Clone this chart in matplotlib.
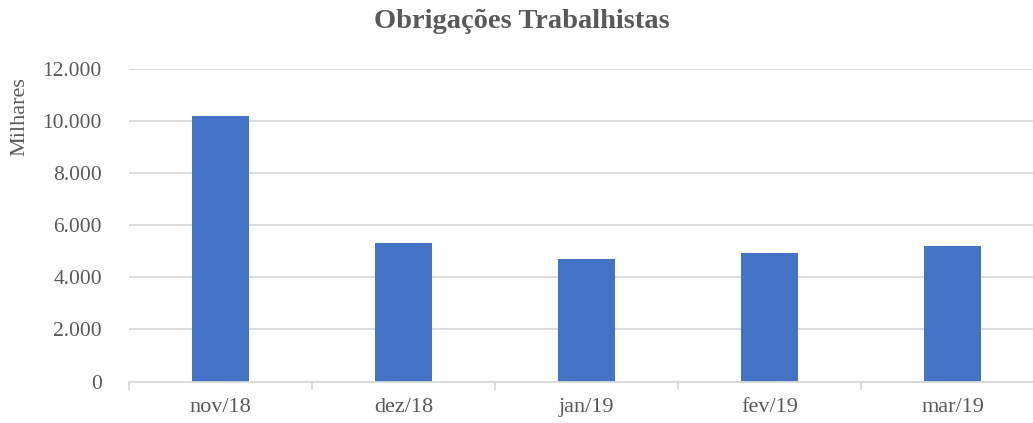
import matplotlib
matplotlib.use("Agg")
import matplotlib.pyplot as plt
from matplotlib.ticker import FuncFormatter, FixedLocator
import numpy as np

# Monthly labour obligations (thousands)
months = ["nov/18", "dez/18", "jan/19", "fev/19", "mar/19"]
values = [10200, 5330, 4700, 4930, 5200]
y_ticks = [0, 2000, 4000, 6000, 8000, 10000, 12000]

plt.rcParams["font.family"] = ["Liberation Serif", "DejaVu Serif"]
text_color = "#595959"
grid_color = "#D9D9D9"
bar_color = "#4472C4"

W, H = 1033, 423
fig = plt.figure(figsize=(W / 100, H / 100), dpi=100)
ax = fig.add_axes([129 / W, 1 - 381.5 / H, (1044 - 129) / W, (381.5 - 69) / H])

x = np.arange(len(months))
ax.bar(x, values, width=0.31, color=bar_color, zorder=3)

ax.set_xlim(-0.5, len(months) - 0.5)
ax.set_ylim(0, 12000)
ax.set_yticks(y_ticks)
ax.yaxis.set_major_formatter(
    FuncFormatter(lambda v, p: f"{int(v):,}".replace(",", "."))
)
ax.grid(axis="y", color=grid_color, linewidth=1.3, zorder=0)
ax.tick_params(axis="y", length=0, pad=19.5, labelsize=15.5, labelcolor=text_color)

ax.set_xticks(x)
ax.set_xticklabels(months)
ax.tick_params(axis="x", which="major", length=0, pad=12, labelsize=16,
               labelcolor=text_color)
ax.xaxis.set_minor_locator(FixedLocator(np.arange(-0.5, len(months), 1.0)))
ax.tick_params(axis="x", which="minor", length=6, width=1.3, color=grid_color)

for side in ("left", "right", "top"):
    ax.spines[side].set_visible(False)
ax.spines["bottom"].set_color(grid_color)
ax.spines["bottom"].set_linewidth(1.3)
ax.spines["bottom"].set_zorder(4)

fig.text(522 / W, 1 - 21 / H, "Obrigações Trabalhistas", ha="center",
         va="center", fontsize=20.5, fontweight="bold", color=text_color)
fig.text(20 / W, 1 - 117 / H, "Milhares", rotation=90, ha="center",
         va="center", fontsize=16, color=text_color)

fig.savefig("out.png", dpi=100)
